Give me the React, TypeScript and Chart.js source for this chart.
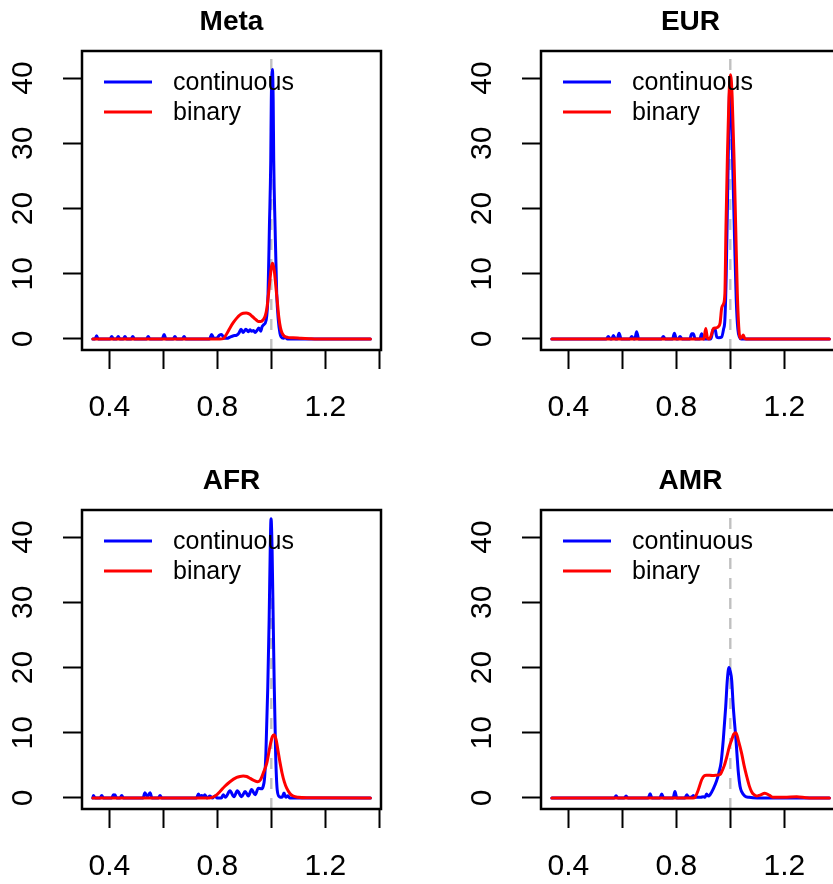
import React, { useEffect, useRef } from "react";
import { Chart, registerables } from "chart.js";

Chart.register(...registerables);

// ---------- axis / labels ----------
const X_TICKS = [0.4, 0.6, 0.8, 1.0, 1.2, 1.4];
const X_TICK_LABELS = ["0.4", "", "0.8", "", "1.2", ""];
const Y_TICKS = [0, 10, 20, 30, 40];
const Y_TICK_LABELS = ["0", "10", "20", "30", "40"];
const SERIES_LABELS = ["continuous", "binary"];
const REF_X = 1.0;
const X_RANGE = [0.2989, 1.4063];
const Y_RANGE = [-1.686, 44.14];

// ---------- Meta ----------
const META_CONT_X = [0.339,0.347,0.353,0.359,0.403,0.409,0.415,0.427,0.433,0.439,0.452,0.458,0.464,0.481,0.487,0.493,0.538,0.544,0.550,0.596,0.603,0.610,0.637,0.643,0.649,0.671,0.677,0.683,0.771,0.779,0.787,0.800,0.808,0.816,0.826,0.836,0.847,0.860,0.872,0.880,0.888,0.896,0.906,0.915,0.921,0.927,0.934,0.940,0.947,0.954,0.961,0.966,0.972,0.981,0.988,0.993,0.998,1.000,1.004,1.007,1.009,1.014,1.020,1.026,1.032,1.037,1.045,1.052,1.060,1.367];
const META_CONT_Y = [0,0,0.5,0,0,0.4,0,0,0.4,0,0,0.4,0,0,0.4,0,0,0.4,0,0,0.7,0,0,0.4,0,0,0.4,0,0,0.7,0.1,0.2,0.6,0.7,0.1,0.1,0.3,0.5,0.6,0.9,1.5,1.0,1.5,1.1,1.4,1.2,1.3,1.0,1.3,1.7,1.2,1.9,2.2,2.9,7.0,17.2,27.4,36.6,41.3,36.6,27.4,17.2,7.0,2.9,0.9,0.3,0.1,0.25,0,0];
const META_BIN_X = [0.339,0.810,0.822,0.835,0.847,0.859,0.872,0.884,0.896,0.907,0.918,0.930,0.942,0.952,0.961,0.970,0.978,0.984,0.990,0.996,1.001,1.005,1.011,1.017,1.023,1.028,1.034,1.040,1.048,1.060,1.080,1.110,1.140,1.170,1.367];
const META_BIN_Y = [0,0,0.05,0.8,1.7,2.5,3.2,3.7,3.95,4.0,3.85,3.45,3.0,2.7,2.7,2.95,3.6,4.8,7.0,9.5,11.2,11.6,10.5,8.0,5.4,3.3,1.7,0.9,0.45,0.25,0.2,0.12,0.05,0,0];

// ---------- EUR ----------
const EUR_CONT_X = [0.339,0.541,0.548,0.556,0.561,0.567,0.575,0.581,0.588,0.596,0.628,0.635,0.642,0.646,0.653,0.661,0.745,0.752,0.759,0.786,0.793,0.800,0.807,0.814,0.821,0.850,0.857,0.863,0.870,0.887,0.894,0.901,0.928,0.936,0.943,0.950,0.958,0.968,0.975,0.980,0.985,0.990,0.995,0.999,1.004,1.010,1.016,1.022,1.028,1.034,1.040,1.367];
const EUR_CONT_Y = [0,0,0.4,0,0,0.55,0,0,0.9,0,0,0.4,0,0,1.1,0,0,0.4,0,0,0.9,0,0,0.4,0,0,0.8,0.8,0,0,0.8,0,0,1.4,1.6,0.3,0.2,0.3,1.5,3.0,10,22,34,39.6,35,25,15,6,1.5,0.3,0,0];
const EUR_BIN_X = [0.339,0.902,0.909,0.915,0.921,0.929,0.937,0.946,0.956,0.962,0.968,0.974,0.980,0.984,0.989,0.995,1.001,1.007,1.014,1.020,1.026,1.033,1.038,1.043,1.048,1.053,1.060,1.367];
const EUR_BIN_Y = [0,0,1.6,0.2,0,0.5,1.6,1.7,1.9,2.4,4.7,5.3,7.0,17.2,27.4,37,40.5,37,27.4,17.2,7.0,0.9,0.1,0.3,0.6,0.1,0,0];

// ---------- AFR ----------
const AFR_CONT_X = [0.339,0.341,0.347,0.366,0.372,0.378,0.409,0.415,0.418,0.421,0.427,0.440,0.446,0.452,0.525,0.532,0.541,0.551,0.558,0.582,0.588,0.594,0.723,0.730,0.736,0.742,0.748,0.754,0.762,0.773,0.782,0.791,0.800,0.815,0.822,0.830,0.847,0.862,0.874,0.890,0.903,0.915,0.927,0.940,0.952,0.964,0.970,0.975,0.980,0.987,0.992,0.996,0.999,1.003,1.007,1.011,1.016,1.022,1.030,1.040,1.047,1.054,1.062,1.068,1.367];
const AFR_CONT_Y = [0,0.4,0,0,0.4,0,0,0.5,0.2,0.5,0,0,0.4,0,0,0.8,0.2,0.8,0,0,0.4,0,0,0.6,0.2,0.4,0.2,0.5,0,0.3,0,0.3,0,0,0.5,0.1,1.1,0.2,1.1,0.2,1.0,0.3,1.3,0.5,1.5,1.4,1.8,3.0,6.85,17.1,27.3,38,42.8,38,27.3,17.1,6.85,1.2,0.2,0.1,0.75,0.1,0.35,0,0];
const AFR_BIN_X = [0.339,0.770,0.779,0.795,0.810,0.828,0.847,0.872,0.884,0.896,0.909,0.922,0.935,0.950,0.960,0.970,0.983,0.995,1.004,1.011,1.018,1.025,1.032,1.040,1.048,1.057,1.069,1.081,1.100,1.130,1.367];
const AFR_BIN_Y = [0,0,0.05,0.4,1.0,1.8,2.5,3.15,3.3,3.37,3.3,3.0,2.7,2.5,2.8,3.8,5.3,7.9,9.4,9.7,8.9,7.2,5.5,3.8,2.5,1.5,0.7,0.3,0.1,0.02,0];

// ---------- AMR ----------
const AMR_CONT_X = [0.339,0.570,0.577,0.584,0.607,0.614,0.621,0.696,0.703,0.710,0.739,0.746,0.753,0.788,0.795,0.802,0.832,0.839,0.846,0.856,0.863,0.870,0.890,0.900,0.906,0.912,0.918,0.925,0.937,0.949,0.958,0.966,0.974,0.983,0.989,0.995,1.000,1.005,1.011,1.021,1.030,1.036,1.042,1.054,1.070,1.100,1.367];
const AMR_CONT_Y = [0,0,0.35,0,0,0.3,0,0,0.65,0,0,0.6,0,0,1.0,0,0,0.5,0.1,0.1,0.4,0.1,0.1,0.2,0.1,0.6,0.3,0.5,1.4,2.6,3.9,5.5,8.9,14,18.1,20,19.4,18.1,14,8.9,3.8,1.8,0.97,0.3,0.1,0,0];
const AMR_BIN_X = [0.339,0.862,0.869,0.881,0.894,0.903,0.912,0.935,0.950,0.962,0.968,0.978,0.987,0.996,1.005,1.013,1.021,1.030,1.042,1.051,1.061,1.070,1.079,1.088,1.098,1.110,1.128,1.145,1.159,1.200,1.246,1.280,1.300,1.367];
const AMR_BIN_Y = [0,0,0.1,1.2,2.8,3.4,3.5,3.45,3.5,3.6,4.0,5.0,6.3,7.8,8.9,9.8,10.0,8.8,6.85,5.0,3.27,1.9,0.97,0.5,0.3,0.45,0.72,0.4,0.1,0.1,0.2,0.05,0,0];

const PANELS = [
  { title: "Meta", cx: META_CONT_X, cy: META_CONT_Y, bx: META_BIN_X, by: META_BIN_Y, left: 0, top: 0 },
  { title: "EUR", cx: EUR_CONT_X, cy: EUR_CONT_Y, bx: EUR_BIN_X, by: EUR_BIN_Y, left: 459, top: 0 },
  { title: "AFR", cx: AFR_CONT_X, cy: AFR_CONT_Y, bx: AFR_BIN_X, by: AFR_BIN_Y, left: 0, top: 459 },
  { title: "AMR", cx: AMR_CONT_X, cy: AMR_CONT_Y, bx: AMR_BIN_X, by: AMR_BIN_Y, left: 459, top: 459 },
];

const FONT = "'Liberation Sans', Arial, Helvetica, sans-serif";
const CANVAS_W = 463;
const CANVAS_H = 459;

const toPoints = (xs: number[], ys: number[]) =>
  xs.slice(0, Math.min(xs.length, ys.length)).map((x, i) => ({ x, y: ys[i] }));

const boxPlugin = {
  id: "rbox",
  afterDatasetsDraw(chart: any) {
    const { ctx, chartArea: a } = chart;
    ctx.save();
    ctx.strokeStyle = "#000";
    ctx.lineWidth = 2.5;
    ctx.strokeRect(a.left, a.top, a.right - a.left, a.bottom - a.top);
    ctx.restore();
  },
};

const legendPlugin = {
  id: "rlegend",
  afterDraw(chart: any) {
    const { ctx, chartArea: a } = chart;
    const items = chart.data.datasets.filter((d: any) => d.label);
    ctx.save();
    ctx.font = `25px ${FONT}`;
    ctx.textBaseline = "middle";
    ctx.textAlign = "left";
    items.forEach((d: any, i: number) => {
      const y = a.top + 31 + i * 30;
      ctx.beginPath();
      ctx.strokeStyle = d.borderColor;
      ctx.lineWidth = 3;
      ctx.moveTo(a.left + 22, y);
      ctx.lineTo(a.left + 70, y);
      ctx.stroke();
      ctx.fillStyle = "#000";
      ctx.fillText(d.label, a.left + 91, y + 1);
    });
    ctx.restore();
  },
};

const lineStyle = {
  borderWidth: 3,
  pointRadius: 0,
  cubicInterpolationMode: "monotone",
  borderJoinStyle: "round",
  borderCapStyle: "round",
  fill: false,
};

function Panel({ p }: { p: any }) {
  const ref = useRef<HTMLCanvasElement | null>(null);
  useEffect(() => {
    if (!ref.current) return;
    const chart = new Chart(ref.current, {
      type: "line",
      data: {
        datasets: [
          {
            ...lineStyle,
            label: SERIES_LABELS[0],
            data: toPoints(p.cx, p.cy),
            borderColor: "#0000ff",
            order: 2,
          },
          {
            ...lineStyle,
            label: SERIES_LABELS[1],
            data: toPoints(p.bx, p.by),
            borderColor: "#ff0000",
            order: 1,
          },
          {
            label: "",
            data: [
              { x: REF_X, y: Y_RANGE[0] },
              { x: REF_X, y: Y_RANGE[1] },
            ],
            borderColor: "#c0c0c0",
            borderWidth: 2.4,
            borderDash: [11, 9],
            pointRadius: 0,
            fill: false,
            order: 3,
          },
        ],
      },
      options: {
        responsive: false,
        animation: false,
        events: [],
        layout: { padding: 0 },
        plugins: {
          legend: { display: false },
          tooltip: { enabled: false },
          title: {
            display: true,
            text: p.title,
            color: "#000",
            font: { family: FONT, size: 28, weight: "bold" },
            padding: { top: 5.2, bottom: 12.2 },
          },
        },
        scales: {
          x: {
            type: "linear",
            min: X_RANGE[0],
            max: X_RANGE[1],
            afterBuildTicks: (s: any) => {
              s.ticks = X_TICKS.map((v) => ({ value: v }));
            },
            afterFit: (s: any) => {
              s.height = CANVAS_H - 350;
            },
            border: { display: false },
            grid: {
              display: true,
              drawOnChartArea: false,
              drawTicks: true,
              tickLength: 19,
              tickWidth: 2,
              tickColor: "#000",
            },
            ticks: {
              autoSkip: false,
              maxRotation: 0,
              minRotation: 0,
              padding: 21,
              color: "#000",
              font: { family: FONT, size: 30 },
              callback: (_v: any, i: number) => X_TICK_LABELS[i],
            },
          },
          y: {
            type: "linear",
            position: "left",
            min: Y_RANGE[0],
            max: Y_RANGE[1],
            afterBuildTicks: (s: any) => {
              s.ticks = Y_TICKS.map((v) => ({ value: v }));
            },
            afterFit: (s: any) => {
              s.width = 82;
            },
            border: { display: false },
            grid: {
              display: true,
              drawOnChartArea: false,
              drawTicks: true,
              tickLength: 19,
              tickWidth: 2,
              tickColor: "#000",
            },
            ticks: {
              autoSkip: false,
              minRotation: 90,
              maxRotation: 90,
              crossAlign: "center",
              padding: 23,
              color: "#000",
              font: { family: FONT, size: 30 },
              callback: (_v: any, i: number) => Y_TICK_LABELS[i],
            },
          },
          yRight: {
            type: "linear",
            position: "right",
            min: Y_RANGE[0],
            max: Y_RANGE[1],
            afterFit: (s: any) => {
              s.width = CANVAS_W - 381;
            },
            border: { display: false },
            grid: { display: false },
            ticks: { display: false },
          },
        },
      },
      plugins: [boxPlugin, legendPlugin],
    } as any);
    return () => chart.destroy();
  }, [p]);
  return (
    <div style={{ position: "absolute", left: p.left, top: p.top, width: CANVAS_W, height: CANVAS_H }}>
      <canvas ref={ref} width={CANVAS_W} height={CANVAS_H} style={{ width: CANVAS_W, height: CANVAS_H, display: "block" }} />
    </div>
  );
}

export default function App() {
  return (
    <div
      style={{
        position: "fixed",
        left: 0,
        top: 0,
        width: 833,
        height: 884,
        overflow: "hidden",
        background: "#fff",
      }}
    >
      {PANELS.map((p) => (
        <Panel key={p.title} p={p} />
      ))}
    </div>
  );
}
